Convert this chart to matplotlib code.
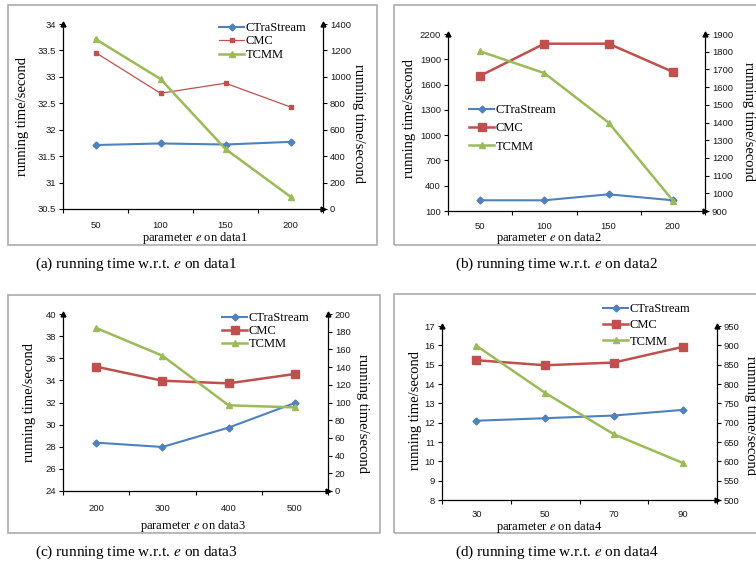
import matplotlib
matplotlib.use("Agg")
import matplotlib.pyplot as plt
from matplotlib.patches import Rectangle
import numpy as np

plt.rcParams["font.family"] = ["Liberation Serif", "DejaVu Serif"]
plt.rcParams["mathtext.fontset"] = "stix"

W, H = 756, 572

# data (left axis: CTraStream, CMC; right axis: TCMM)
x1 = [50, 100, 150, 200]
ctra1 = [31.71, 31.74, 31.72, 31.77]
cmc1 = [33.46, 32.69, 32.88, 32.43]
tcmm1 = [1286, 984, 454, 93]

x2 = [50, 100, 150, 200]
ctra2 = [227, 227, 298, 227]
cmc2 = [1704, 2085, 2085, 1751]
tcmm2 = [1802, 1679, 1399, 959]

x3 = [200, 300, 400, 500]
ctra3 = [28.37, 27.98, 29.73, 31.96]
cmc3 = [35.24, 33.97, 33.73, 34.58]
tcmm3 = [184.2, 152.9, 96.8, 94.5]

x4 = [30, 50, 70, 90]
ctra4 = [12.10, 12.23, 12.37, 12.66]
cmc4 = [15.23, 14.97, 15.11, 15.92]
tcmm4 = [899, 777, 670, 596]

names = ["CTraStream", "CMC", "TCMM"]
captions = ["(a) running time w.r.t. $e$ on data1", "(b) running time w.r.t. $e$ on data2",
            "(c) running time w.r.t. $e$ on data3", "(d) running time w.r.t. $e$ on data4"]

BLUE, RED, GREEN = "#4F81BD", "#C0504D", "#9BBB59"
TICKC = "#1A1A1A"

fig = plt.figure(figsize=(W / 100, H / 100), dpi=100)


def fx(px):
    return px / W


def fy(py):
    return 1 - py / H


def panel(box, rect, xs, ctra, cmc, tcmm, lticks, rticks, dname,
          leg_xy, leg_sp, cmc_thin, lab_pos, xlab_xy, tick_y):
    # grey frame around the sub figure
    bx0, by0, bx1, by1 = box
    fig.patches.append(Rectangle((fx(bx0), fy(by1)), fx(bx1 - bx0), (by1 - by0) / H,
                                 transform=fig.transFigure, fill=False,
                                 edgecolor="#ABABAB", lw=1.2))
    l, t, r, b = rect
    ax = fig.add_axes([fx(l), fy(b), fx(r - l), (b - t) / H])
    ax2 = ax.twinx()
    pos = np.arange(1, len(xs) + 1)

    h1, = ax.plot(pos, ctra, color=BLUE, lw=1.5, marker="D", ms=3.5)
    if cmc_thin:
        h2, = ax.plot(pos, cmc, color=RED, lw=0.9, marker="s", ms=3.5)
    else:
        h2, = ax.plot(pos, cmc, color=RED, lw=1.8, marker="s", ms=5.5)
    h3, = ax2.plot(pos, tcmm, color=GREEN, lw=1.8, marker="^", ms=5)

    ax.set_xlim(0.5, len(xs) + 0.5)
    ax.set_ylim(lticks[0], lticks[-1])
    ax2.set_ylim(rticks[0], rticks[-1])
    ax.set_yticks(lticks)
    ax.set_yticklabels([f"{v:g}" for v in lticks])
    ax2.set_yticks(rticks)
    ax2.set_yticklabels([f"{v:g}" for v in rticks])
    ax.set_xticks(np.arange(0.5, len(xs) + 1))
    ax.set_xticklabels([])
    ax.set_xticks(pos, minor=True)
    ax.set_xticklabels([str(v) for v in xs], minor=True)
    ax.tick_params(axis="x", which="minor", length=0, pad=(tick_y - b - 4) * 0.72)
    ax.tick_params(axis="x", which="major", length=3, width=0.8)
    for a in (ax, ax2):
        a.tick_params(axis="y", length=3, width=0.8, pad=2)
        for lab in a.get_yticklabels() + a.get_xticklabels(minor=True):
            lab.set_fontfamily("Liberation Sans")
            lab.set_fontsize(6.8)
            lab.set_color(TICKC)
        for s in a.spines.values():
            s.set_visible(False)
        a.patch.set_visible(False)
    ax.spines["left"].set_visible(True)
    ax.spines["bottom"].set_visible(True)
    ax2.spines["right"].set_visible(True)
    for s in (ax.spines["left"], ax.spines["bottom"], ax2.spines["right"]):
        s.set_color("black")
        s.set_linewidth(0.9)
    # arrow heads at the axis ends
    for px, py, m in [(0, 1, "^"), (1, 1, "^"), (1, 0, ">")]:
        ax.plot(px, py, marker=m, color="black", ms=3.5, transform=ax.transAxes,
                clip_on=False)

    ax2.legend([h1, h2, h3], names, loc="upper left",
               bbox_to_anchor=(fx(leg_xy[0]), fy(leg_xy[1])),
               bbox_transform=fig.transFigure, frameon=False, fontsize=9,
               handlelength=2.0, handletextpad=0.15, borderpad=0,
               borderaxespad=0, labelspacing=leg_sp)

    (lx, ly), (rx, ry) = lab_pos
    fig.text(fx(lx), fy(ly), "running time/second", rotation=90, ha="center",
             va="center", fontsize=10.5)
    fig.text(fx(rx), fy(ry), "running time/second", rotation=-90, ha="center",
             va="center", fontsize=10.5)
    fig.text(fx(xlab_xy[0]), fy(xlab_xy[1]), "parameter $e$ on " + dname,
             ha="center", va="center", fontsize=9)


panel((8, 5, 377, 245), (63, 24, 323, 209), x1, ctra1, cmc1, tcmm1,
      np.arange(30.5, 34.01, 0.5), np.arange(0, 1401, 200), "data1",
      (219, 22), 0.12, True, ((23, 117), (358, 123)), (195, 238), 225)
panel((394, 5, 760, 245), (448, 34, 705, 211), x2, ctra2, cmc2, tcmm2,
      np.arange(100, 2201, 300), np.arange(900, 1901, 100), "data2",
      (469, 104), 0.5, False, ((410, 118), (748, 121)), (549, 238), 226)
panel((8, 295, 380, 533), (63, 314, 328, 491), x3, ctra3, cmc3, tcmm3,
      np.arange(24, 40.1, 2), np.arange(0, 201, 20), "data3",
      (222, 312), 0.08, False, ((30, 402), (363, 413)), (193, 526), 508)
panel((394, 294, 760, 533), (442, 326, 717, 500), x4, ctra4, cmc4, tcmm4,
      np.arange(8, 17.1, 1), np.arange(500, 951, 50), "data4",
      (603, 303), 0.35, False, ((415, 411), (750, 415)), (549, 527), 514)

for cap, (cx, cy) in zip(captions, [(136, 264), (557, 264), (136, 552), (557, 552)]):
    fig.text(fx(cx), fy(cy), cap, ha="center", va="center", fontsize=11)

fig.savefig("out.png", dpi=100)
